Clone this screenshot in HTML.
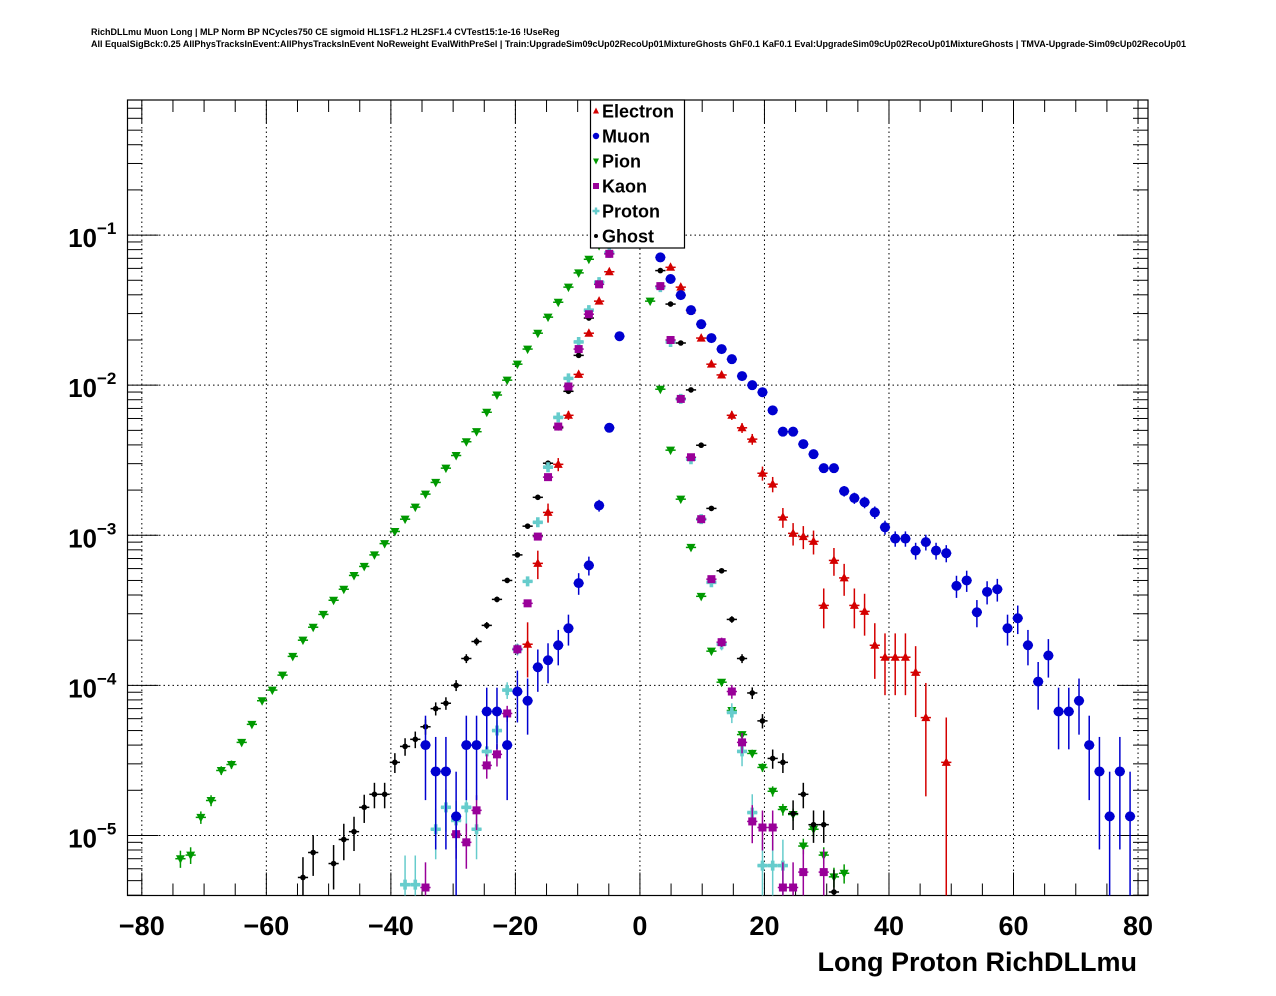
<!DOCTYPE html>
<html><head><meta charset="utf-8">
<style>
html,body{margin:0;padding:0;background:#fff;width:1276px;height:996px;overflow:hidden;}
svg{display:block;font-family:"Liberation Sans",Arial,sans-serif;}
</style></head>
<body>
<svg id="chart" width="1276" height="996" viewBox="0 0 1276 996" xmlns="http://www.w3.org/2000/svg">
<rect x="0" y="0" width="1276" height="996" fill="#fff"/>
<text x="91" y="35" font-size="9" font-weight="bold">RichDLLmu Muon Long | MLP Norm BP NCycles750 CE sigmoid HL1SF1.2 HL2SF1.4 CVTest15:1e-16 !UseReg</text>
<text x="91" y="47" font-size="9" font-weight="bold" textLength="1095" lengthAdjust="spacingAndGlyphs">All EqualSigBck:0.25 AllPhysTracksInEvent:AllPhysTracksInEvent NoReweight EvalWithPreSel | Train:UpgradeSim09cUp02RecoUp01MixtureGhosts GhF0.1 KaF0.1 Eval:UpgradeSim09cUp02RecoUp01MixtureGhosts | TMVA-Upgrade-Sim09cUp02RecoUp01</text>
<g id="grid"></g>
<g id="axes"></g>
<g id="series"></g>
<g id="legend"></g>
<text x="1137" y="971" font-size="27" font-weight="bold" text-anchor="end">Long Proton RichDLLmu</text>
</svg>
<script>
const xTicks=[-80,-60,-40,-20,0,20,40,60,80];
const xTickLabels=["\u221280","\u221260","\u221240","\u221220","0","20","40","60","80"];
const yDecades=[-1,-2,-3,-4,-5];
const yTickLabels=["\u22121","\u22122","\u22123","\u22124","\u22125"];
const seriesNames=["Electron","Muon","Pion","Kaon","Proton","Ghost"];

const electronX=[-18.04,-16.4,-14.76,-13.12,-11.48,-9.84,-8.2,-6.56,-4.92,4.92,6.56,8.2,9.84,11.48,13.12,14.76,16.4,18.04,19.68,21.32,22.96,24.6,26.24,27.88,29.52,31.16,32.8,34.44,36.08,37.72,39.36,41,42.64,44.28,45.92,49.2];
const electronY=[1.88e-4,6.5e-4,1.42e-3,2.97e-3,6.3e-3,1.18e-2,2.22e-2,3.63e-2,5.7e-2,6.1e-2,4.5e-2,3.16e-2,2.06e-2,1.38e-2,1.17e-2,6.3e-3,5.2e-3,4.37e-3,2.59e-3,2.19e-3,1.32e-3,1.03e-3,9.8e-4,9.1e-4,3.41e-4,6.8e-4,5.2e-4,3.41e-4,3.11e-4,1.85e-4,1.54e-4,1.54e-4,1.54e-4,1.22e-4,6.1e-5,3.07e-5];

const muonX=[-34.44,-32.8,-31.16,-29.52,-27.88,-26.24,-24.6,-22.96,-21.32,-19.68,-18.04,-16.4,-14.76,-13.12,-11.48,-9.84,-8.2,-6.56,-4.92,-3.28,3.28,4.92,6.56,8.2,9.84,11.48,13.12,14.76,16.4,18.04,19.68,21.32,22.96,24.6,26.24,27.88,29.52,31.16,32.8,34.44,36.08,37.72,39.36,41,42.64,44.28,45.92,47.56,49.2,50.84,52.48,54.12,55.76,57.4,59.04,60.68,62.32,63.96,65.6,67.24,68.88,70.52,72.16,73.8,75.44,77.08,78.72];
const muonY=[4.0e-5,2.67e-5,2.67e-5,1.34e-5,4.0e-5,4.0e-5,6.7e-5,6.7e-5,4.0e-5,9.1e-5,7.9e-5,1.32e-4,1.47e-4,1.85e-4,2.4e-4,4.8e-4,6.3e-4,1.58e-3,5.2e-3,2.12e-2,7.1e-2,5.1e-2,3.98e-2,3.16e-2,2.55e-2,2.06e-2,1.74e-2,1.49e-2,1.15e-2,1.0e-2,8.98e-3,6.8e-3,4.9e-3,4.9e-3,4.05e-3,3.47e-3,2.8e-3,2.8e-3,1.97e-3,1.77e-3,1.66e-3,1.42e-3,1.13e-3,9.5e-4,9.5e-4,7.9e-4,9.0e-4,7.9e-4,7.6e-4,4.6e-4,5.0e-4,3.07e-4,4.2e-4,4.37e-4,2.4e-4,2.8e-4,1.85e-4,1.06e-4,1.58e-4,6.7e-5,6.7e-5,7.9e-5,4.0e-5,2.67e-5,1.34e-5,2.67e-5,1.34e-5];

const pionX=[-73.8,-72.16,-70.52,-68.88,-67.24,-65.6,-63.96,-62.32,-60.68,-59.04,-57.4,-55.76,-54.12,-52.48,-50.84,-49.2,-47.56,-45.92,-44.28,-42.64,-41,-39.36,-37.72,-36.08,-34.44,-32.8,-31.16,-29.52,-27.88,-26.24,-24.6,-22.96,-21.32,-19.68,-18.04,-16.4,-14.76,-13.12,-11.48,-9.84,-8.2,-6.56,1.64,3.28,4.92,6.56,8.2,9.84,11.48,13.12,14.76,16.4,18.04,19.68,21.32,22.96,24.6,26.24,27.88,29.52,31.16,32.8];
const pionY=[7.0e-6,7.4e-6,1.32e-5,1.71e-5,2.71e-5,2.97e-5,4.17e-5,5.5e-5,7.9e-5,9.3e-5,1.17e-4,1.56e-4,2.0e-4,2.44e-4,2.97e-4,3.69e-4,4.37e-4,5.4e-4,6.2e-4,7.4e-4,8.8e-4,1.06e-3,1.28e-3,1.54e-3,1.88e-3,2.25e-3,2.8e-3,3.4e-3,4.2e-3,4.9e-3,6.6e-3,8.6e-3,1.08e-2,1.38e-2,1.74e-2,2.22e-2,2.84e-2,3.57e-2,4.5e-2,5.6e-2,6.9e-2,8.5e-2,3.63e-2,9.4e-3,3.69e-3,1.74e-3,8.3e-4,3.92e-4,1.69e-4,1.05e-4,6.8e-5,4.7e-5,3.52e-5,2.84e-5,1.97e-5,1.49e-5,1.38e-5,8.5e-6,1.10e-5,7.4e-6,5.3e-6,5.6e-6];

const kaonX=[-34.44,-29.52,-27.88,-26.24,-24.6,-22.96,-21.32,-19.68,-18.04,-16.4,-14.76,-13.12,-11.48,-9.84,-8.2,-6.56,-4.92,3.28,4.92,6.56,8.2,9.84,11.48,13.12,14.76,16.4,18.04,19.68,21.32,22.96,24.6,26.24,29.52];
const kaonY=[4.5e-6,1.02e-5,9.0e-6,1.47e-5,2.93e-5,3.47e-5,6.5e-5,1.74e-4,3.52e-4,9.8e-4,2.44e-3,5.3e-3,9.8e-3,1.74e-2,2.97e-2,4.7e-2,7.5e-2,4.57e-2,2.0e-2,8.1e-3,3.31e-3,1.28e-3,5.1e-4,1.94e-4,9.1e-5,4.17e-5,1.24e-5,1.13e-5,1.13e-5,4.5e-6,4.5e-6,5.7e-6,5.7e-6];

const protonX=[-37.72,-36.08,-32.8,-31.16,-29.52,-27.88,-26.24,-24.6,-22.96,-21.32,-19.68,-18.04,-16.4,-14.76,-13.12,-11.48,-9.84,-8.2,-6.56,-4.92,3.28,4.92,6.56,8.2,9.84,11.48,13.12,14.76,16.4,18.04,19.68,21.32,22.96];
const protonY=[4.7e-6,4.7e-6,1.10e-5,1.54e-5,1.26e-5,1.54e-5,1.10e-5,3.63e-5,5.0e-5,9.3e-5,1.74e-4,4.93e-4,1.22e-3,2.84e-3,6.1e-3,1.11e-2,1.94e-2,3.16e-2,4.86e-2,7.6e-2,4.5e-2,1.94e-2,8.1e-3,3.21e-3,1.28e-3,4.86e-4,1.88e-4,6.6e-5,3.63e-5,1.42e-5,6.3e-6,6.3e-6,6.3e-6];

const ghostX=[-54.12,-52.48,-49.2,-47.56,-45.92,-44.28,-42.64,-41,-39.36,-37.72,-36.08,-34.44,-32.8,-31.16,-29.52,-27.88,-26.24,-24.6,-22.96,-21.32,-19.68,-18.04,-16.4,-14.76,-13.12,-11.48,-9.84,-8.2,-6.56,3.28,4.92,6.56,8.2,9.84,11.48,13.12,14.76,16.4,18.04,19.68,21.32,22.96,24.6,26.24,27.88,29.52,31.16];
const ghostY=[5.25e-6,7.7e-6,6.5e-6,9.4e-6,1.06e-5,1.54e-5,1.88e-5,1.88e-5,3.07e-5,3.92e-5,4.37e-5,5.3e-5,7.0e-5,7.6e-5,1.0e-4,1.51e-4,1.96e-4,2.51e-4,3.74e-4,5.0e-4,7.4e-4,1.15e-3,1.79e-3,3.02e-3,5.2e-3,9.1e-3,1.58e-2,2.8e-2,4.86e-2,5.8e-2,3.47e-2,1.91e-2,9.3e-3,3.98e-3,1.51e-3,5.8e-4,2.75e-4,1.51e-4,8.9e-5,5.8e-5,3.26e-5,3.07e-5,1.40e-5,1.88e-5,1.18e-5,1.18e-5,4.2e-6];

const NS="http://www.w3.org/2000/svg";
const PL=127.5,PR=1148,PT=100,PB=895.5;
const X0=-82.3,X1=81.6;
const LMAX=-0.1,LMIN=-5.4;
const binHalf=0.82;
function sx(v){return PL+(v-X0)/(X1-X0)*(PR-PL);}
function sy(v){const l=Math.log10(v);return PT+(LMAX-l)/(LMAX-LMIN)*(PB-PT);}
function clampY(y){return Math.max(PT,Math.min(PB,y));}
function mk(tag,attrs,parent){const e=document.createElementNS(NS,tag);for(const k in attrs)e.setAttribute(k,attrs[k]);parent.appendChild(e);return e;}

const grid=document.getElementById('grid'),axes=document.getElementById('axes'),ser=document.getElementById('series'),leg=document.getElementById('legend');

xTicks.forEach(t=>{const x=sx(t);if(x>PL+1&&x<PR-1){const l=mk('line',{x1:x,x2:x,y1:PT,y2:PB,stroke:'#000','stroke-width':1,'stroke-dasharray':'1.5,3'},grid);

}});
yDecades.forEach(d=>{const y=sy(Math.pow(10,d));const l=mk('line',{x1:PL,x2:PR,y1:y,y2:y,stroke:'#000','stroke-width':1,'stroke-dasharray':'1.5,3'},grid);

});

const fr=mk('rect',{x:PL,y:PT,width:PR-PL,height:PB-PT,fill:'none',stroke:'#000','stroke-width':1.2},axes);



for(let v=-80;v<=80;v+=5){const x=sx(v);const major=(v%20===0);const len=major?23:12;
mk('line',{x1:x,x2:x,y1:PB,y2:PB-len,stroke:'#000','stroke-width':1},axes);
mk('line',{x1:x,x2:x,y1:PT,y2:PT+len,stroke:'#000','stroke-width':1},axes);}
xTicks.forEach((t,i)=>{const tx=mk('text',{x:sx(t),y:935,'font-size':27,'font-weight':'bold','text-anchor':'middle'},axes);tx.textContent=xTickLabels[i];

});

for(let d=-6;d<=0;d++){for(let m=1;m<=9;m++){const v=m*Math.pow(10,d);const l=Math.log10(v);if(l<LMIN||l>LMAX)continue;const y=sy(v);const len=(m===1)?31:15;
mk('line',{x1:PL,x2:PL+len,y1:y,y2:y,stroke:'#000','stroke-width':1},axes);
mk('line',{x1:PR,x2:PR-len,y1:y,y2:y,stroke:'#000','stroke-width':1},axes);}}
yDecades.forEach((d,i)=>{const y=sy(Math.pow(10,d));const t=mk('text',{x:97,y:y+12,'font-size':26,'font-weight':'bold','text-anchor':'end'},axes);t.textContent='10';


const s=mk('text',{x:97,y:y-1,'font-size':17,'font-weight':'bold'},axes);s.textContent=yTickLabels[i];

});

function marker(kind,x,y,col,parent){
 if(kind==='tri')return mk('polygon',{points:`${x},${y-5} ${x-4.5},${y+3.5} ${x+4.5},${y+3.5}`,fill:col},parent);
 if(kind==='circ')return mk('circle',{cx:x,cy:y,r:5,fill:col},parent);
 if(kind==='tridown')return mk('polygon',{points:`${x},${y+5} ${x-4.5},${y-3.5} ${x+4.5},${y-3.5}`,fill:col},parent);
 if(kind==='sq')return mk('rect',{x:x-4,y:y-4,width:8,height:8,fill:col},parent);
 if(kind==='cross')return mk('path',{d:`M${x-1.8},${y-5}h3.6v3.2h3.2v3.6h-3.2v3.2h-3.6v-3.2h-3.2v-3.6h3.2z`,fill:col},parent);
 return mk('circle',{cx:x,cy:y,r:2.8,fill:col},parent);
}
const styles={Electron:{kind:'tri',col:'#d40000',w:3e-5},Muon:{kind:'circ',col:'#0000d0',w:1.3e-5},Pion:{kind:'tridown',col:'#009900',w:1.2e-7},Kaon:{kind:'sq',col:'#990099',w:1e-6},Proton:{kind:'cross',col:'#66cccc',w:1.5e-6},Ghost:{kind:'dot',col:'#000',w:7e-7}};
const seriesData={Electron:[electronX,electronY],Muon:[muonX,muonY],Pion:[pionX,pionY],Kaon:[kaonX,kaonY],Proton:[protonX,protonY],Ghost:[ghostX,ghostY]};
const order=["Pion","Ghost","Proton","Kaon","Electron","Muon"];
const clip=mk('clipPath',{id:'pc'},ser);mk('rect',{x:PL,y:PT,width:PR-PL,height:PB-PT},clip);
order.forEach(name=>{
 const st=styles[name];const [xs,ys]=seriesData[name];
 const g=mk('g',{'clip-path':'url(#pc)'},ser);
 
 
 xs.forEach((xv,i)=>{const yv=ys[i];const x=sx(xv),y=sy(yv);
  const err=Math.sqrt(yv*st.w);const yhi=clampY(sy(yv+err));const ylo=(yv-err>1e-7)?clampY(sy(yv-err)):PB;
  mk('line',{x1:x,x2:x,y1:yhi,y2:ylo,stroke:st.col,'stroke-width':1.5},g);
  mk('line',{x1:sx(xv-binHalf),x2:sx(xv+binHalf),y1:y,y2:y,stroke:st.col,'stroke-width':1.5},g);
  const m=marker(st.kind,x,y,st.col,g);
  
  
 });
});

const lb=mk('rect',{x:590.5,y:100,width:94,height:148,fill:'#fff',stroke:'#000','stroke-width':1.2},leg);


seriesNames.forEach((n,i)=>{const y=111+25*i;const st=styles[n];
 const g=mk('g',{},leg);
 
 
 if(st.kind==='dot')mk('circle',{cx:596,cy:y,r:2,fill:st.col},g);
 else if(st.kind==='circ')mk('circle',{cx:596,cy:y,r:3.2,fill:st.col},g);
 else if(st.kind==='tri')mk('polygon',{points:`596,${y-3.5} 593,${y+2.5} 599,${y+2.5}`,fill:st.col},g);
 else if(st.kind==='tridown')mk('polygon',{points:`596,${y+3.5} 593,${y-2.5} 599,${y-2.5}`,fill:st.col},g);
 else if(st.kind==='sq')mk('rect',{x:593,y:y-3,width:6,height:6,fill:st.col},g);
 else mk('path',{d:`M594.8,${y-3.5}h2.4v2.3h2.3v2.4h-2.3v2.3h-2.4v-2.3h-2.3v-2.4h2.3z`,fill:st.col},g);
 const t=mk('text',{x:602,y:y+6.5,'font-size':18,'font-weight':'bold'},g);t.textContent=n;
});
</script>
</body></html>
